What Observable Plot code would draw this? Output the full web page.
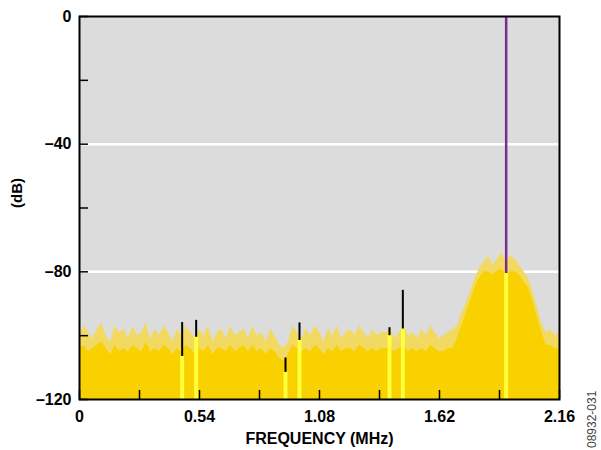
<!DOCTYPE html>
<html><head><meta charset="utf-8">
<script src="https://cdn.jsdelivr.net/npm/d3@7"></script>
<script src="https://cdn.jsdelivr.net/npm/@observablehq/plot@0.6"></script>
<style>
body{margin:0;background:#fff;}
#chart{position:relative;width:601px;height:450px;font-family:Arial,"Liberation Sans",sans-serif;}
#code{position:absolute;left:586px;top:448px;transform:rotate(-90deg);transform-origin:left top;font-size:12px;line-height:12px;color:#444;white-space:nowrap;}
</style>
</head><body>
<div id="chart"><div id="code">08932-031</div></div>
<script>
// Frequency grid (MHz), 0.02 MHz steps
const freqGrid = d3.range(0, 109).map(i => +(i * 0.02).toFixed(2));
// Noise peaks (dB)
const peakDb = [
  -100,-97,-99,-101,-98,-96,-100,-102,-97,-99,-98,-101,-97,-100,-99,-96,-101,-98,-100,-97,-99,-102,-98,
  -100,-97,-99,-101,-98,-100,-97,-102,-99,-98,-101,-97,-100,-99,-98,-101,-97,-100,-99,-102,-98,-100,-103,
  -104,-102,-97,-99,-101,-98,-100,-97,-99,-102,-98,-100,-97,-101,-99,-98,-100,-97,-99,-101,-98,-100,-99,
  -99,-98,-101,-99,-97,-100,-99,-101,-98,-100,-97,-99,-101,-100,-99,-98,-97,-93,-90,-86,-82,-79,-77,
  -75,-78,-76,-74,-77,-75,-76,-78,-80,-82,-86,-91,-96,-99,-98,-100,-99
];
// Solid noise body (dB)
const bodyDb = [
  -104,-103,-105,-104,-103,-102,-104,-106,-103,-105,-104,-105,-103,-104,-105,-102,-105,-104,-105,-103,-104,-106,-104,
  -105,-103,-104,-106,-104,-105,-103,-106,-104,-104,-105,-103,-105,-104,-103,-105,-103,-105,-104,-106,-104,-105,-107,
  -108,-106,-103,-104,-105,-104,-105,-103,-104,-106,-104,-105,-103,-105,-104,-104,-105,-103,-104,-105,-104,-105,-104,
  -104,-104,-105,-104,-103,-105,-104,-105,-104,-105,-103,-104,-105,-105,-104,-104,-101,-97,-93,-89,-85,-82,-80,
  -80,-81,-80,-79,-81,-80,-80,-81,-83,-85,-89,-94,-99,-103,-103,-104,-104
];
// Spurs (MHz, dB)
const spurFreq   = [0.462, 0.525, 0.927, 0.99, 1.395, 1.455];
const spurTop    = [-95.9, -95.2, -107, -96, -97.5, -85.8];
const spurBottom = [-106.5, -100.5, -111.5, -101.5, -100, -97.9];
// Carrier
const carrierFreq = [1.92];
const carrierTop = [0];
const carrierBottom = [-80.5];
// Axes
const xTicks = [0, 0.27, 0.54, 0.81, 1.08, 1.35, 1.62, 1.89, 2.16];
const xLabeled = [0, 0.54, 1.08, 1.62, 2.16];
const yTicks = [0, -20, -40, -60, -80, -100, -120];
const yLabeled = [0, -40, -80, -120];
const gridDb = [-40, -80];
const xTitle = "FREQUENCY (MHz)";
const yTitle = "(dB)";

const spectrum = freqGrid.map((f, i) => ({f, peak: peakDb[i], body: bodyDb[i]}));
const spurs = spurFreq.map((f, i) => ({f, top: spurTop[i], bottom: spurBottom[i]}));
const carrier = carrierFreq.map((f, i) => ({f, top: carrierTop[i], bottom: carrierBottom[i]}));
const stripes = spurs.concat(carrier);

const dbFmt = d => d === 0 ? "0" : "\u2013" + Math.abs(d);

const chart = Plot.plot({
  width: 601, height: 450,
  marginLeft: 79, marginRight: 42, marginTop: 16, marginBottom: 51,
  style: {fontFamily: "Arial, 'Liberation Sans', sans-serif", fontSize: "16px", fontWeight: "bold", color: "#000", background: "#fff"},
  x: {domain: [0, 2.16]},
  y: {domain: [-120, 0]},
  marks: [
    Plot.frame({fill: "#dcdcdc"}),
    Plot.ruleY(gridDb, {stroke: "#fff", strokeWidth: 2.5}),
    Plot.areaY(spectrum, {x: "f", y1: -120, y2: "peak", fill: "#f2da62"}),
    Plot.areaY(spectrum, {x: "f", y1: -120, y2: "body", fill: "#f9d000"}),
    Plot.ruleX(stripes, {x: "f", y1: -120, y2: "bottom", stroke: "#ffff3a", strokeWidth: 4}),
    Plot.ruleX(spurs, {x: "f", y1: "bottom", y2: "top", stroke: "#000", strokeWidth: 2}),
    Plot.ruleX(carrier, {x: "f", y1: "bottom", y2: "top", stroke: "#7b2a90", strokeWidth: 2.5}),
    Plot.frame({stroke: "#000", strokeWidth: 2}),
    Plot.axisY(yTicks, {anchor: "left", tickSize: -9, tickFormat: () => "", label: null, strokeWidth: 1.5}),
    Plot.axisY(yLabeled, {anchor: "left", tickSize: 0, tickPadding: 8, tickFormat: dbFmt, label: null, fontSize: 16}),
    Plot.axisX(xTicks, {anchor: "bottom", tickSize: -9, tickFormat: () => "", label: null, strokeWidth: 1.5}),
    Plot.axisX(xLabeled, {anchor: "bottom", tickSize: 0, tickPadding: 11, tickFormat: d => String(d), label: null, fontSize: 16}),
    Plot.text([xTitle], {frameAnchor: "bottom", dy: 44, text: d => d, fontSize: 16, fontWeight: "bold"}),
    Plot.text([yTitle], {frameAnchor: "left", dx: -62, rotate: -90, text: d => d, fontSize: 15, fontWeight: "bold"})
  ]
});
document.getElementById("chart").prepend(chart);
</script>
</body></html>
